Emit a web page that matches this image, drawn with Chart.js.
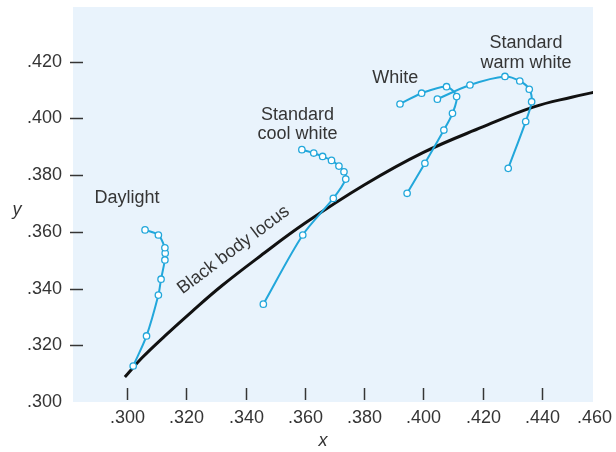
<!DOCTYPE html>
<html>
<head>
<meta charset="utf-8">
<title>Chromaticity of fluorescent lamps</title>
<script src="https://cdn.jsdelivr.net/npm/chart.js@4.4.1/dist/chart.umd.min.js"></script>
<style>
  html, body { margin: 0; padding: 0; background: #fff; }
  #cie { display: block; }
</style>
</head>
<body>
<canvas id="cie" width="616" height="452"></canvas>
<script>
// chromaticity coordinates (x, y)
const locusX = [0.2993, 0.305, 0.313, 0.322, 0.332, 0.345, 0.360, 0.380, 0.400, 0.420, 0.437, 0.450, 0.458];
const locusY = [0.3088, 0.3155, 0.3235, 0.332, 0.341, 0.3515, 0.363, 0.3765, 0.388, 0.397, 0.404, 0.4075, 0.4093];

const daylightX = [0.3021, 0.3066, 0.3106, 0.3115, 0.3128, 0.3129, 0.3128, 0.3106, 0.3061];
const daylightY = [0.3127, 0.3233, 0.3377, 0.3433, 0.3501, 0.3525, 0.3544, 0.3589, 0.3607];

const coolX = [0.3460, 0.3593, 0.3696, 0.3738, 0.3732, 0.3715, 0.3690, 0.3660, 0.3630, 0.3590];
const coolY = [0.3345, 0.3589, 0.3718, 0.3786, 0.3812, 0.3832, 0.3852, 0.3866, 0.3878, 0.3890];

const whiteX = [0.3945, 0.4005, 0.4069, 0.4098, 0.4112, 0.4078, 0.3994, 0.3921];
const whiteY = [0.3736, 0.3842, 0.3959, 0.4018, 0.4077, 0.4112, 0.4089, 0.4051];

const warmX = [0.4286, 0.4345, 0.4365, 0.4357, 0.4325, 0.4275, 0.4157, 0.4047];
const warmY = [0.3824, 0.3989, 0.4059, 0.4103, 0.4132, 0.4148, 0.4118, 0.4068];

const xTicks = [0.300, 0.320, 0.340, 0.360, 0.380, 0.400, 0.420, 0.440, 0.460];
const yTicks = [0.300, 0.320, 0.340, 0.360, 0.380, 0.400, 0.420];

const LAMP_BLUE = '#22a7db';
const INK = '#353535';
const PLOT_BG = '#e9f3fc';
const FONT = '"Liberation Sans", Arial, Helvetica, sans-serif';

const toPoints = (xs, ys) => xs.map((v, i) => ({ x: v, y: ys[i] }));

function lampSeries(label, xs, ys) {
  return {
    label,
    data: toPoints(xs, ys),
    showLine: true,
    borderColor: LAMP_BLUE,
    borderWidth: 2,
    tension: 0.3,
    pointRadius: 3.2,
    pointBorderWidth: 1.3,
    pointBackgroundColor: '#fff',
    pointBorderColor: LAMP_BLUE,
    order: 0
  };
}

// text placed in data coordinates
const notes = [
  { text: 'Daylight', x: 0.3000, y: 0.3720 },
  { text: 'Standard', x: 0.3575, y: 0.4012 },
  { text: 'cool white', x: 0.3575, y: 0.3945 },
  { text: 'White', x: 0.3905, y: 0.4143 },
  { text: 'Standard', x: 0.4346, y: 0.4266 },
  { text: 'warm white', x: 0.4346, y: 0.4196 },
  { text: 'Black body locus', x: 0.3359, y: 0.3536, angle: -37 }
];

const tickText = v => v.toFixed(3).slice(1);

const cieAxes = {
  id: 'cieAxes',
  beforeDraw(chart) {
    const { ctx, chartArea: a } = chart;
    ctx.save();
    ctx.fillStyle = PLOT_BG;
    ctx.fillRect(a.left, a.top, a.right - a.left, a.bottom - a.top);
    ctx.restore();
  },
  afterDraw(chart) {
    const { ctx, chartArea: a, scales: { x, y } } = chart;
    ctx.save();
    ctx.strokeStyle = INK;
    ctx.fillStyle = INK;
    ctx.lineWidth = 1.5;
    ctx.font = '18px ' + FONT;

    // x axis: short marks inside the plot, labels underneath
    ctx.textAlign = 'center';
    ctx.textBaseline = 'middle';
    xTicks.forEach(v => {
      const px = Math.round(x.getPixelForValue(v)) + 0.5;
      if (px < a.right) {
        ctx.beginPath();
        ctx.moveTo(px, a.bottom - 14);
        ctx.lineTo(px, a.bottom - 2);
        ctx.stroke();
      }
      const t = tickText(v);
      // keep the last label inside the canvas
      const lx = Math.min(px, chart.width - ctx.measureText(t).width / 2 - 4);
      ctx.fillText(t, lx, a.bottom + 16);
    });

    // y axis: dashes straddling the left edge
    ctx.textAlign = 'right';
    yTicks.forEach(v => {
      const py = Math.round(y.getPixelForValue(v)) + 0.5;
      if (py < a.bottom - 1) {
        ctx.beginPath();
        ctx.moveTo(a.left - 3, py);
        ctx.lineTo(a.left + 10, py);
        ctx.stroke();
      }
      ctx.fillText(tickText(v), a.left - 11, py);
    });

    ctx.font = 'italic 18px ' + FONT;
    ctx.textAlign = 'center';
    ctx.fillText('x', a.left + 250, a.bottom + 39);
    ctx.fillText('y', 17, 210);

    // annotations
    ctx.font = '18px ' + FONT;
    notes.forEach(n => {
      ctx.save();
      ctx.translate(x.getPixelForValue(n.x), y.getPixelForValue(n.y));
      if (n.angle) ctx.rotate(n.angle * Math.PI / 180);
      ctx.fillText(n.text, 0, 0);
      ctx.restore();
    });
    ctx.restore();
  }
};

new Chart(document.getElementById('cie'), {
  type: 'scatter',
  data: {
    datasets: [
      {
        label: 'Black body locus',
        data: toPoints(locusX, locusY),
        showLine: true,
        borderColor: '#111',
        borderWidth: 3,
        tension: 0.4,
        pointRadius: 0,
        order: 1
      },
      lampSeries('Daylight', daylightX, daylightY),
      lampSeries('Standard cool white', coolX, coolY),
      lampSeries('White', whiteX, whiteY),
      lampSeries('Standard warm white', warmX, warmY)
    ]
  },
  options: {
    responsive: false,
    animation: false,
    devicePixelRatio: 1,
    layout: { padding: { left: 73, top: 7, right: 23, bottom: 50 } },
    plugins: { legend: { display: false }, tooltip: { enabled: false } },
    scales: {
      x: { type: 'linear', min: 0.2818, max: 0.4572, display: false },
      y: { type: 'linear', min: 0.300, max: 0.4393, display: false }
    }
  },
  plugins: [cieAxes]
});
</script>
</body>
</html>
